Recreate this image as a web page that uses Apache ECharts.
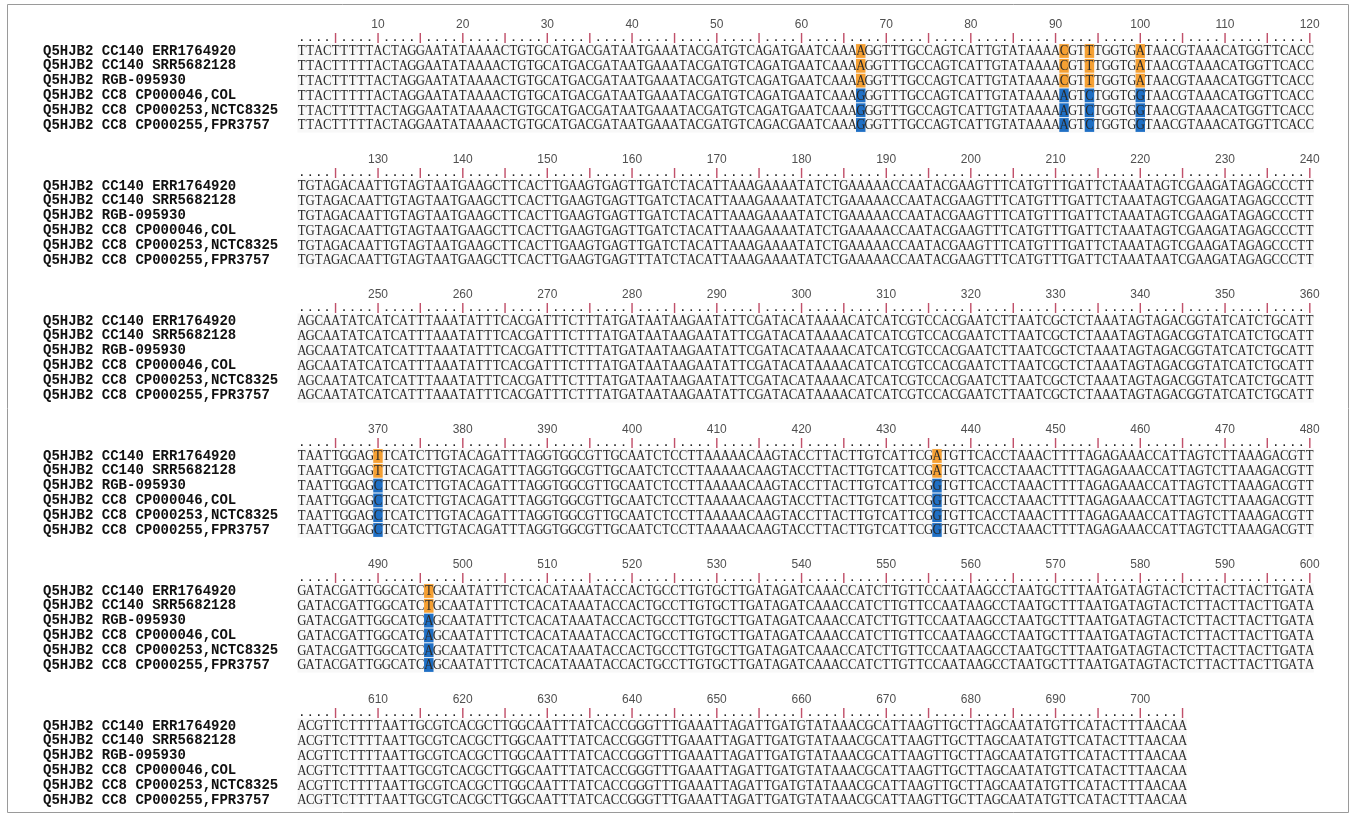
<!DOCTYPE html>
<html>
<head>
<meta charset="utf-8">
<script src="https://cdn.jsdelivr.net/npm/echarts@6/dist/echarts.min.js"></script>
<style>
html,body{margin:0;padding:0;background:#ffffff;}
#chart{width:1356px;height:818px;}
</style>
</head>
<body>
<div id="chart"></div>
<script>
// ---------------- DATA ----------------
const seqNames = [
  'Q5HJB2 CC140 ERR1764920',
  'Q5HJB2 CC140 SRR5682128',
  'Q5HJB2 RGB-095930',
  'Q5HJB2 CC8 CP000046,COL',
  'Q5HJB2 CC8 CP000253,NCTC8325',
  'Q5HJB2 CC8 CP000255,FPR3757'
];

// sequence of the first row, one line per block of 120 bases (groups of 10)
const referenceLines = [
  'TTACTTTTTA CTAGGAATAT AAAACTGTGC ATGACGATAA TGAAATACGA TGTCAGATGA ATCAAAAGGT TTGCCAGTCA TTGTATAAAA CGTTTGGTGA TAACGTAAAC ATGGTTCACC',
  'TGTAGACAAT TGTAGTAATG AAGCTTCACT TGAAGTGAGT TGATCTACAT TAAAGAAAAT ATCTGAAAAA CCAATACGAA GTTTCATGTT TGATTCTAAA TAGTCGAAGA TAGAGCCCTT',
  'AGCAATATCA TCATTTAAAT ATTTCACGAT TTCTTTATGA TAATAAGAAT ATTCGATACA TAAAACATCA TCGTCCACGA ATCTTAATCG CTCTAAATAG TAGACGGTAT CATCTGCATT',
  'TAATTGGAGT TCATCTTGTA CAGATTTAGG TGGCGTTGCA ATCTCCTTAA AAACAAGTAC CTTACTTGTC ATTCGATGTT CACCTAAACT TTTAGAGAAA CCATTAGTCT TAAAGACGTT',
  'GATACGATTG GCATCTGCAA TATTTCTCAC ATAAATACCA CTGCCTTGTG CTTGATAGAT CAAACCATCT TGTTCCAATA AGCCTAATGC TTTAATGATA GTACTCTTAC TTACTTGATA',
  'ACGTTCTTTT AATTGCGTCA CGCTTGGCAA TTTATCACCG GGTTTGAAAT TAGATTGATG TATAAACGCA TTAAGTTGCT TAGCAATATG TTCATACTTT AACAA'
];

// bases where each row differs from the first row (1-based position -> base)
const rowVariants = [
  {},
  {},
  {370: 'C', 436: 'G', 496: 'A'},
  {67: 'G', 91: 'A', 94: 'C', 100: 'G', 370: 'C', 436: 'G', 496: 'A'},
  {67: 'G', 91: 'A', 94: 'C', 100: 'G', 370: 'C', 436: 'G', 496: 'A'},
  {58: 'C', 67: 'G', 91: 'A', 94: 'C', 100: 'G', 162: 'T', 223: 'A', 370: 'C', 436: 'G', 496: 'A'}
];

// highlighted SNP columns and how many top rows are in the orange group (rest blue)
const snpPositions  = [67, 91, 94, 100, 370, 436, 496];
const snpOrangeRows = [3, 3, 3, 3, 2, 2, 2];

const COLS_PER_BLOCK = 120;
const ORANGE = '#f5a033';
const BLUE = '#1f6fc4';

// ---------------- BUILD ----------------
const reference = referenceLines.join('').replace(/\s+/g, '');
const seqs = seqNames.map((n, r) => {
  const a = reference.split('');
  Object.keys(rowVariants[r]).forEach(p => { a[+p - 1] = rowVariants[r][p]; });
  return a.join('');
});
const snpMap = {};
snpPositions.forEach((p, i) => { snpMap[p] = snpOrangeRows[i]; });

const CHAR_W = 8.47;
const SEQ_LEFT = 297.5;
const BLOCK_PITCH = 135;
const FIRST_LABEL_Y = 25;
const ROW_PITCH = 14.8;
const ROW1_OFFSET = 26;
const RULER_OFFSET = 13;

const nBlocks = Math.ceil(reference.length / COLS_PER_BLOCK);
const grids = [], xAxes = [], yAxes = [], series = [];

for (let b = 0; b < nBlocks; b++) {
  const start = b * COLS_PER_BLOCK;
  const len = Math.min(COLS_PER_BLOCK, reference.length - start);
  const L = FIRST_LABEL_Y + b * BLOCK_PITCH;
  const top = L + ROW1_OFFSET - ROW_PITCH / 2;
  grids.push({
    left: SEQ_LEFT, top: top, width: len * CHAR_W, height: ROW_PITCH * seqNames.length,
    show: true, backgroundColor: '#f8f8f8', borderWidth: 0
  });
  const cats = Array.from({length: len}, (_, i) => String(start + i + 1));
  xAxes.push({
    type: 'category', gridIndex: b, position: 'top', data: cats, boundaryGap: true,
    axisLine: {show: false}, axisTick: {show: false}, splitLine: {show: false},
    axisLabel: {
      interval: 0, margin: top - L, verticalAlign: 'middle',
      formatter: v => (+v % 10 === 0 ? v : ''),
      color: '#505050', fontFamily: 'Liberation Sans', fontSize: 12
    }
  });
  xAxes.push({
    type: 'category', gridIndex: b, position: 'top', data: cats, boundaryGap: true,
    axisLine: {show: false}, axisTick: {show: false}, splitLine: {show: false},
    axisLabel: {
      interval: 0, margin: top - (L + RULER_OFFSET), verticalAlign: 'middle',
      formatter: v => (+v % 5 === 0 ? '|' : '.'),
      color: v => (+v % 5 === 0 ? '#c0506a' : '#222222'),
      fontFamily: 'Liberation Sans', fontSize: 11, fontWeight: 'bold'
    }
  });
  yAxes.push({
    type: 'category', gridIndex: b, inverse: true, data: seqNames,
    axisLine: {show: false}, axisTick: {show: false}, splitLine: {show: false},
    axisLabel: {
      interval: 0, align: 'left', margin: SEQ_LEFT - 43,
      fontFamily: 'Liberation Mono', fontWeight: 'bold', fontSize: 14, color: '#111111'
    }
  });
  const data = [], info = [];
  for (let r = 0; r < seqs.length; r++) {
    for (let i = 0; i < len; i++) {
      const pos = start + i + 1;
      let hl = null;
      if (snpMap[pos] !== undefined) hl = r < snpMap[pos] ? ORANGE : BLUE;
      data.push([i, r]);
      info.push({ch: seqs[r][start + i], hl: hl});
    }
  }
  series.push({
    type: 'custom', xAxisIndex: 2 * b, yAxisIndex: b, silent: true, animation: false,
    data: data,
    renderItem: (function (info) {
      return function (params, api) {
        const c = api.coord([api.value(0), api.value(1)]);
        const s = api.size([1, 1]);
        const cell = info[params.dataIndex];
        const children = [];
        if (cell.hl) {
          children.push({
            type: 'rect',
            shape: {x: c[0] - s[0] / 2 - 0.5, y: c[1] - s[1] / 2 + 0.5, width: s[0] + 1, height: s[1] - 1},
            style: {fill: cell.hl}
          });
        }
        children.push({
          type: 'text',
          x: c[0], y: c[1] + 0.5, scaleX: 0.88,
          style: {
            text: cell.ch, x: 0, y: 0, align: 'center', verticalAlign: 'middle',
            font: '14.5px "Liberation Serif"', fill: '#2a2a2a'
          }
        });
        return {type: 'group', children: children};
      };
    })(info)
  });
}

const chart = echarts.init(document.getElementById('chart'), null, {renderer: 'canvas'});
chart.setOption({
  backgroundColor: '#ffffff',
  animation: false,
  grid: grids,
  xAxis: xAxes,
  yAxis: yAxes,
  series: series,
  graphic: [{
    type: 'rect', silent: true,
    shape: {x: 7.5, y: 4.5, width: 1341, height: 808},
    style: {fill: null, stroke: '#9a9a9a', lineWidth: 1}
  }]
});
</script>
</body>
</html>
